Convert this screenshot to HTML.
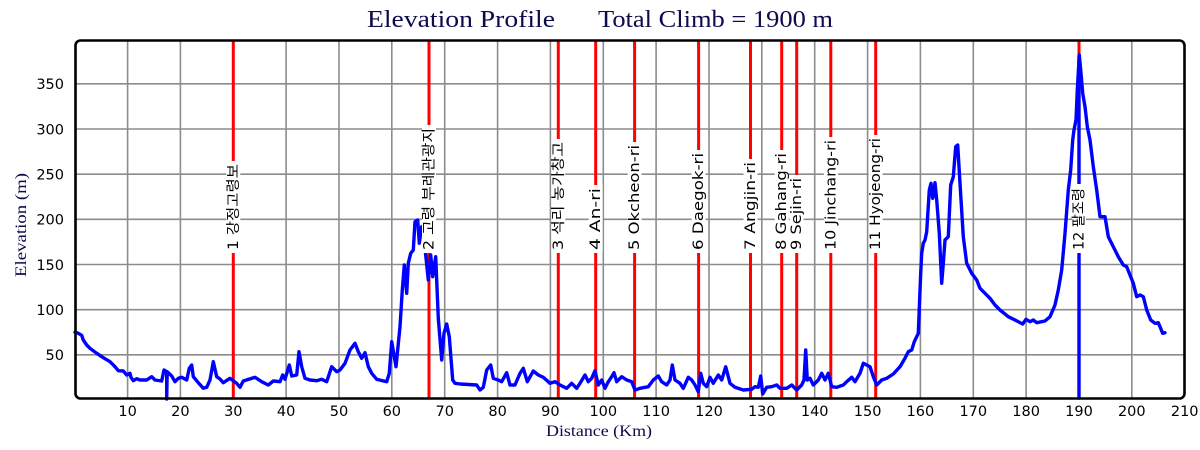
<!DOCTYPE html>
<html><head><meta charset="utf-8"><style>
html,body{margin:0;padding:0;background:#fff;}
svg{display:block;}
</style></head><body>
<svg width="1200" height="450" viewBox="0 0 1200 450" xmlns="http://www.w3.org/2000/svg">
<rect x="0" y="0" width="1200" height="450" fill="#fff"/>
<!-- title -->
<g font-family="Liberation Serif, serif" fill="#0b0b4d" font-size="24">
<text x="367" y="27" textLength="188" lengthAdjust="spacingAndGlyphs">Elevation Profile</text>
<text x="598" y="27" textLength="235" lengthAdjust="spacingAndGlyphs">Total Climb = 1900 m</text>
</g>
<!-- grid -->
<g stroke="#8c8c8c" stroke-width="1.6">
<line x1="127.6" y1="40" x2="127.6" y2="398"/>
<line x1="180.4" y1="40" x2="180.4" y2="398"/>
<line x1="233.3" y1="40" x2="233.3" y2="398"/>
<line x1="286.1" y1="40" x2="286.1" y2="398"/>
<line x1="339.0" y1="40" x2="339.0" y2="398"/>
<line x1="391.8" y1="40" x2="391.8" y2="398"/>
<line x1="444.7" y1="40" x2="444.7" y2="398"/>
<line x1="497.6" y1="40" x2="497.6" y2="398"/>
<line x1="550.4" y1="40" x2="550.4" y2="398"/>
<line x1="603.3" y1="40" x2="603.3" y2="398"/>
<line x1="656.1" y1="40" x2="656.1" y2="398"/>
<line x1="709.0" y1="40" x2="709.0" y2="398"/>
<line x1="761.8" y1="40" x2="761.8" y2="398"/>
<line x1="814.7" y1="40" x2="814.7" y2="398"/>
<line x1="867.6" y1="40" x2="867.6" y2="398"/>
<line x1="920.4" y1="40" x2="920.4" y2="398"/>
<line x1="973.3" y1="40" x2="973.3" y2="398"/>
<line x1="1026.1" y1="40" x2="1026.1" y2="398"/>
<line x1="1079.0" y1="40" x2="1079.0" y2="398"/>
<line x1="1131.8" y1="40" x2="1131.8" y2="398"/>
<line x1="75" y1="354.8" x2="1185" y2="354.8"/>
<line x1="75" y1="309.7" x2="1185" y2="309.7"/>
<line x1="75" y1="264.5" x2="1185" y2="264.5"/>
<line x1="75" y1="219.3" x2="1185" y2="219.3"/>
<line x1="75" y1="174.2" x2="1185" y2="174.2"/>
<line x1="75" y1="129.0" x2="1185" y2="129.0"/>
<line x1="75" y1="83.8" x2="1185" y2="83.8"/>
</g>
<!-- red markers -->
<g stroke="#ff0000" stroke-width="3">
<line x1="233.3" y1="40" x2="233.3" y2="398"/>
<line x1="429" y1="40" x2="429" y2="398"/>
<line x1="558.3" y1="40" x2="558.3" y2="398"/>
<line x1="595.7" y1="40" x2="595.7" y2="398"/>
<line x1="634.6" y1="40" x2="634.6" y2="398"/>
<line x1="698.6" y1="40" x2="698.6" y2="398"/>
<line x1="750.5" y1="40" x2="750.5" y2="398"/>
<line x1="781.7" y1="40" x2="781.7" y2="398"/>
<line x1="796.7" y1="40" x2="796.7" y2="398"/>
<line x1="830.8" y1="40" x2="830.8" y2="398"/>
<line x1="875.7" y1="40" x2="875.7" y2="398"/>
<line x1="1079" y1="40" x2="1079" y2="398"/>
</g>
<!-- profile -->
<g fill="none" stroke="#0000ff" stroke-width="3.4" stroke-linejoin="round" stroke-linecap="round">
<polyline points="75,332.3 78.3,333.3 81.7,335.3 83.3,340 86.7,345 90,348.3 96.7,353.3 103.3,357.7 110,361.7 115,366.7 118.3,370.7 123.3,371 126.7,375 130,373.3 131,377.3 133.3,380.7 136.7,378.7 140,380 146.7,380 151.7,376.7 155,380 161.7,381 164,370 166.7,371.7 166.7,399 167.2,371.7 168.3,372.7 171.7,376 175,381.7 178.3,378.3 181.7,377.3 186.7,380 189.3,368.3 191.7,365 193.3,376.7 198.3,382.7 203.3,388.3 206.7,387.3 210,380 213.3,361.7 216.7,376.7 220,379 223.3,382.7 230,378.3 236.7,383.3 240,387.3 243.3,381 255,377.3 261.7,381.7 268.3,385 273.3,381 280,381.7 282.7,375 285,379.3 289.3,365 291.7,376 296.7,375 299,351.7 301.7,366.7 305,378.3 310,380 316.7,380.7 321.7,379.3 326.7,381.7 331.7,366.7 336.7,371.7 340,370 345,363.3 350,350 355,343.3 358.3,351.7 361.7,358.3 365,352.7 368.3,366.7 371.7,373.3 376.7,379.3 386.7,381.7 389.3,373.3 391.7,341.7 396,366.7 400,326.7 402.3,290 404.3,265 406.7,293.3 408.3,263.3 410.7,253.3 413.3,250 415,221.7 417.7,220 419.3,243.3 421.7,226.7 423.3,233.3 425,248.3 428.3,280 430.7,255 432.7,276.7 435.7,256.7 438.3,318.3 441.7,360 444,333.3 446.7,324 449.3,336.7 452.7,380 455,383.3 460,384 476.7,385 480,390 483.3,387.3 486.7,370 490.7,365 493.3,378.3 498.3,380 501.7,381.7 506.7,372.7 510,385 515,385 520,373.3 523.3,368.3 527.3,381.7 533.3,371 538.3,375 543.3,377.3 550,383.3 555,381.7 560,385 566.7,388.3 571.7,383.3 576.7,388.3 580,383.3 585,375 588.3,381.7 591.7,378.3 595,370.7 598.3,385 601.7,380 605,388.3 608.3,381.7 611.7,376.7 614,372.7 616.7,381.7 621.7,376.7 626.7,380 631.7,381.7 635,390 640,388.3 648.3,386.7 653.3,380 658.3,376 661.7,381.7 666.7,385 670,380 672.3,365 675,380 680,383.3 683.3,388.3 688.3,377.3 691.7,380 695,385 698.3,391.7 700.7,373.3 703.3,383.3 706.7,386.7 710,377.3 713.3,383.3 718.3,375 721.7,380 725.7,366.7 730,383.3 735,387.3 743.3,390 751.7,389.3 755,386.7 758.3,387.3 760.7,376 762.7,394 766.7,387.3 771.7,386.7 776.7,385 780,388.3 786.7,388.3 791.7,385 796.7,390 801.7,385 804,380 805.7,350 807.3,380 810,378.3 813.3,385 818.3,380 821.7,373.3 825,380 828.3,373.3 831.7,386.7 836.7,387.3 843.3,385 846.7,381.7 851.7,377.3 855,381.7 860,373.3 863.3,363.3 866.7,365 870,366.7 873.3,376.7 876.7,385 881.7,380 886.7,378.3 893.3,374 900,366.7 905,358.3 908.3,351.7 911.7,350 914.3,341.7 916.7,336.7 918.3,333.3 920.7,273.3 921.7,253.3 923.3,243.3 925,240 926.7,231.7 929.3,190 931,183.3 932.7,198.3 935,182.7 936.7,200 939.3,233.3 941.7,283.3 943.3,263.3 945,240 948.3,236.7 950.7,185 953.3,176.7 955.7,146.7 957.7,145 960,183.3 963.3,236.7 966.7,263.3 971.7,273.3 976.7,280 980,288.3 985,293.3 990,298.3 995,305 1000,310 1008.3,316.7 1015,320 1022.7,324 1026,319.3 1030,321.7 1033.3,320 1036.7,322.7 1045,321 1050,316.7 1055,305 1058.3,290 1061.7,270 1065,233.3 1068.3,190 1070.7,170 1072.7,140 1074,130 1076,120 1077.3,90 1079.3,55 1081,73.3 1082.7,93.3 1085,106.7 1087.3,126.7 1090,140 1093.3,166.7 1096.7,190 1100,216.7 1105,216.7 1108.3,236.7 1113.3,246.7 1118.3,256.7 1123.3,265 1126.7,266.7 1130,275 1133.3,283.3 1136.7,296.7 1140,295 1143.3,296.7 1146.7,310 1150.7,320 1155,323.3 1158.3,322.7 1160,326.7 1162.7,333.3 1165,332.7"/>
<line x1="1079" y1="398" x2="1079" y2="56"/>
</g>
<!-- marker labels -->
<g fill="#fff">
<rect x="226.3" y="161" width="14" height="92"/>
<rect x="422" y="125" width="14" height="128"/>
<rect x="551.3" y="139" width="14" height="114"/>
<rect x="588.7" y="185" width="14" height="68"/>
<rect x="627.6" y="142" width="14" height="111"/>
<rect x="691.6" y="150" width="14" height="103"/>
<rect x="743.5" y="159" width="14" height="94"/>
<rect x="774.7" y="150" width="14" height="103"/>
<rect x="789.7" y="175" width="14" height="78"/>
<rect x="823.8" y="137" width="14" height="116"/>
<rect x="868.7" y="135" width="14" height="118"/>
<rect x="1072" y="184" width="14" height="69"/>
</g>
<g font-family="DejaVu Sans, Noto Sans CJK KR, sans-serif" font-size="14" fill="#000" dominant-baseline="central">
<text transform="translate(233.8,250) rotate(-90)" textLength="86" lengthAdjust="spacingAndGlyphs">1 강정고령보</text>
<text transform="translate(429.5,250) rotate(-90)" textLength="122" lengthAdjust="spacingAndGlyphs">2 고령 부레관광지</text>
<text transform="translate(558.8,250) rotate(-90)" textLength="108" lengthAdjust="spacingAndGlyphs">3 석리 농가창고</text>
<text transform="translate(596.2,250) rotate(-90)" textLength="62" lengthAdjust="spacingAndGlyphs">4 An-ri</text>
<text transform="translate(635.1,250) rotate(-90)" textLength="105" lengthAdjust="spacingAndGlyphs">5 Okcheon-ri</text>
<text transform="translate(699.1,250) rotate(-90)" textLength="97" lengthAdjust="spacingAndGlyphs">6 Daegok-ri</text>
<text transform="translate(751,250) rotate(-90)" textLength="88" lengthAdjust="spacingAndGlyphs">7 Angjin-ri</text>
<text transform="translate(782.2,250) rotate(-90)" textLength="97" lengthAdjust="spacingAndGlyphs">8 Gahang-ri</text>
<text transform="translate(797.2,250) rotate(-90)" textLength="72" lengthAdjust="spacingAndGlyphs">9 Sejin-ri</text>
<text transform="translate(831.3,250) rotate(-90)" textLength="110" lengthAdjust="spacingAndGlyphs">10 Jinchang-ri</text>
<text transform="translate(876.2,250) rotate(-90)" textLength="112" lengthAdjust="spacingAndGlyphs">11 Hyojeong-ri</text>
<text transform="translate(1079.5,250) rotate(-90)" textLength="62" lengthAdjust="spacingAndGlyphs">12 팔조령</text>
</g>
<!-- frame -->
<rect x="75.5" y="40.5" width="1109" height="358" rx="5" ry="5" fill="none" stroke="#000" stroke-width="2.6"/>
<!-- y ticks -->
<g font-family="DejaVu Sans, sans-serif" font-size="14.5" fill="#000" text-anchor="end">
<text x="64" y="360">50</text>
<text x="64" y="315">100</text>
<text x="64" y="270">150</text>
<text x="64" y="224.5">200</text>
<text x="64" y="179.5">250</text>
<text x="64" y="134.5">300</text>
<text x="64" y="89">350</text>
</g>
<!-- x ticks -->
<g font-family="DejaVu Sans, sans-serif" font-size="14.5" fill="#000" text-anchor="middle">
<text x="127.6" y="416">10</text>
<text x="180.4" y="416">20</text>
<text x="233.3" y="416">30</text>
<text x="286.1" y="416">40</text>
<text x="339.0" y="416">50</text>
<text x="391.8" y="416">60</text>
<text x="444.7" y="416">70</text>
<text x="497.6" y="416">80</text>
<text x="550.4" y="416">90</text>
<text x="603.3" y="416">100</text>
<text x="656.1" y="416">110</text>
<text x="709.0" y="416">120</text>
<text x="761.8" y="416">130</text>
<text x="814.7" y="416">140</text>
<text x="867.6" y="416">150</text>
<text x="920.4" y="416">160</text>
<text x="973.3" y="416">170</text>
<text x="1026.1" y="416">180</text>
<text x="1079.0" y="416">190</text>
<text x="1131.8" y="416">200</text>
<text x="1184.7" y="416">210</text>
</g>
<!-- axis titles -->
<g font-family="Liberation Serif, serif" font-size="16" fill="#0b0b4d">
<text x="546" y="436" textLength="106" lengthAdjust="spacingAndGlyphs">Distance (Km)</text>
<text transform="translate(26,277) rotate(-90)" textLength="104" lengthAdjust="spacingAndGlyphs">Elevation (m)</text>
</g>
</svg>
</body></html>
